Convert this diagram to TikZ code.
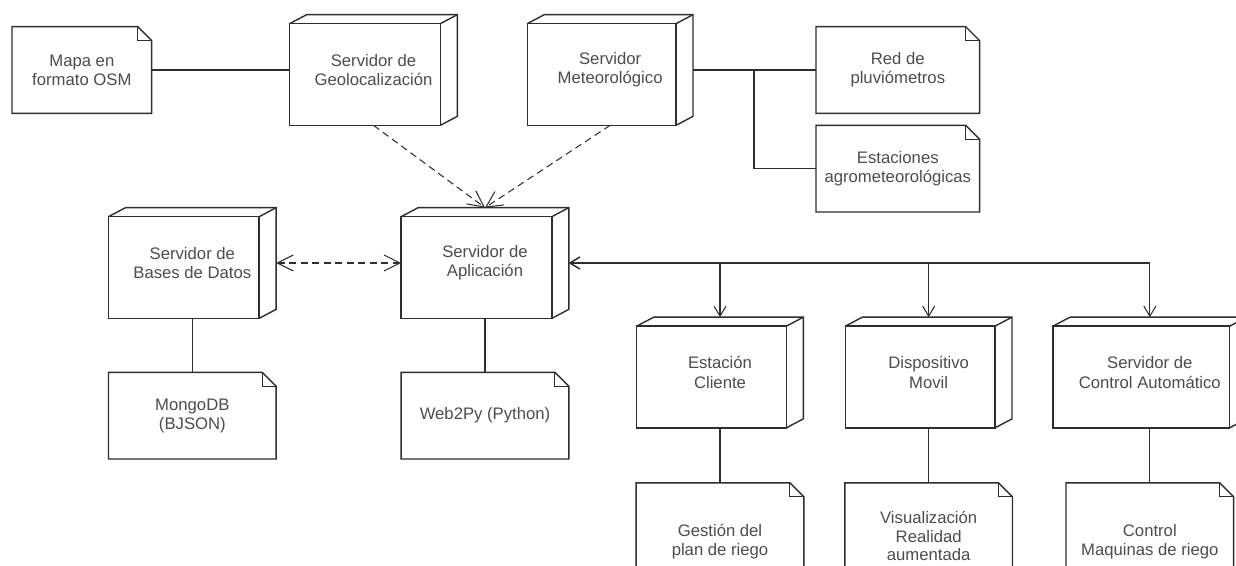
\documentclass[tikz,border=0pt]{standalone}
\usepackage{fontspec}
\setmainfont{Liberation Sans}
\usetikzlibrary{arrows.meta, positioning}
\definecolor{linegray}{gray}{0.18}
\definecolor{textgray}{gray}{0.3}
\newcommand{\boxfont}{\fontsize{9.5}{11}\selectfont}
\newlength{\srvdx}\setlength{\srvdx}{3.4mm}
\newlength{\srvdy}\setlength{\srvdy}{1.8mm}
\newlength{\earsize}\setlength{\earsize}{2.8mm}
\tikzstyle{shapeline} = [draw=linegray, line width=0.8pt, line join=miter]
\tikzstyle{link} = [draw=linegray, line width=0.6pt]

\begin{document}
\begin{tikzpicture}[
    x=0.02cm, y=-0.02cm,
    server/.style={minimum width=3.34cm, minimum height=2.2cm, inner sep=0pt,
      align=center, font=\boxfont, text=textgray,
      append after command={\pgfextra{
        \draw[shapeline] (\tikzlastnode.south west) rectangle ([xshift=-\srvdx, yshift=-\srvdy]\tikzlastnode.north east);
        \draw[shapeline] ([yshift=-\srvdy]\tikzlastnode.north west) -- ([xshift=\srvdx]\tikzlastnode.north west)
          -- (\tikzlastnode.north east) -- ([yshift=\srvdy]\tikzlastnode.south east)
          -- ([xshift=-\srvdx]\tikzlastnode.south east);
        \draw[shapeline] ([xshift=-\srvdx, yshift=-\srvdy]\tikzlastnode.north east) -- (\tikzlastnode.north east);
      }}},
    note/.style={minimum width=3.34cm, minimum height=1.72cm, inner sep=0pt,
      align=center, font=\boxfont, text=textgray,
      append after command={\pgfextra{
        \draw[shapeline] (\tikzlastnode.north west) -- ([xshift=-\earsize]\tikzlastnode.north east)
          -- ([yshift=-\earsize]\tikzlastnode.north east) -- (\tikzlastnode.south east)
          -- (\tikzlastnode.south west) -- cycle;
        \draw[shapeline, line width=0.6pt] ([xshift=-\earsize]\tikzlastnode.north east) |- ([yshift=-\earsize]\tikzlastnode.north east);
      }}},
    depends/.style={link, dash pattern=on 1.4mm off 0.9mm, -{Straight Barb[length=3.2mm, width=3.2mm]}},
    twoway/.style={depends, {Straight Barb[length=3.2mm, width=3.2mm]}-{Straight Barb[length=3.2mm, width=3.2mm]}},
    comm/.style={link, {Straight Barb[length=2mm, width=2.4mm]}-{Straight Barb[length=2mm, width=2.4mm]}}
]
    \useasboundingbox (0,0) rectangle (1236,565);
    \clip (0,0) rectangle (1236,565);

    % Top row
    \node[server] (geo) at (373.5,70) {Servidor de\\Geolocalización};
    \node[note, minimum width=2.78cm, left=2.76cm of geo] (mapa) {Mapa en\\formato OSM};
    \node[server, minimum width=3.3cm, right=1.4cm of geo] (meteo) {Servidor\\Meteorológico};
    \node[note, minimum width=3.26cm, right=2.46cm of meteo] (red) {Red de\\pluviómetros};
    \node[note, minimum width=3.26cm, below=0.24cm of red] (agro) {Estaciones\\agrometeorológicas};

    % Middle row
    \node[server] (app) at (485,263) {Servidor de\\Aplicación};
    \node[server, left=2.5cm of app] (db) {Servidor de\\Bases de Datos};
    \node[note, below=1.08cm of db] (mongo) {MongoDB\\(BJSON)};
    \node[note, below=1.08cm of app] (web) {Web2Py (Python)};

    % Clients
    \node[server, minimum width=3.32cm] (est) at (720,372.5) {Estación\\Cliente};
    \node[server, minimum width=3.32cm, right=0.84cm of est] (disp) {Dispositivo\\Movil};
    \node[server, minimum width=3.86cm, right=0.82cm of disp] (ctrl) {Servidor de\\Control Automático};
    \node[note, minimum height=2.34cm, below=1.1cm of est] (gest) {Gestión del\\plan de riego};
    \node[note, minimum height=2.12cm, below=1.1cm of disp, font=\fontsize{9.5}{10.6}\selectfont] (visu) {Visualización\\Realidad\\aumentada};
    \node[note, minimum height=2.34cm, below=1.1cm of ctrl] (maq) {Control\\Maquinas de riego};

    % Connections
    \draw[link] (mapa.east) -- (geo.west);
    \draw[link] (meteo.east) -- (red.west);
    \draw[link] (meteo.east) -- ++(61,0) |- (agro.west);
    \draw[depends] (geo.south) -- (app.north);
    \draw[depends] (meteo.south) -- (app.north);
    \draw[twoway] (db.east) -- (app.west);
    \draw[link] (db.south) -- (mongo.north);
    \draw[link] (app.south) -- (web.north);

    \draw[comm] (app.east) -| (est.north);
    \draw[comm] (app.east) -| (disp.north);
    \draw[comm] (app.east) -| (ctrl.north);
    \draw[link] (est.south) -- (gest.north);
    \draw[link] (disp.south) -- (visu.north);
    \draw[link] (ctrl.south) -- (maq.north);

\end{tikzpicture}
\end{document}
